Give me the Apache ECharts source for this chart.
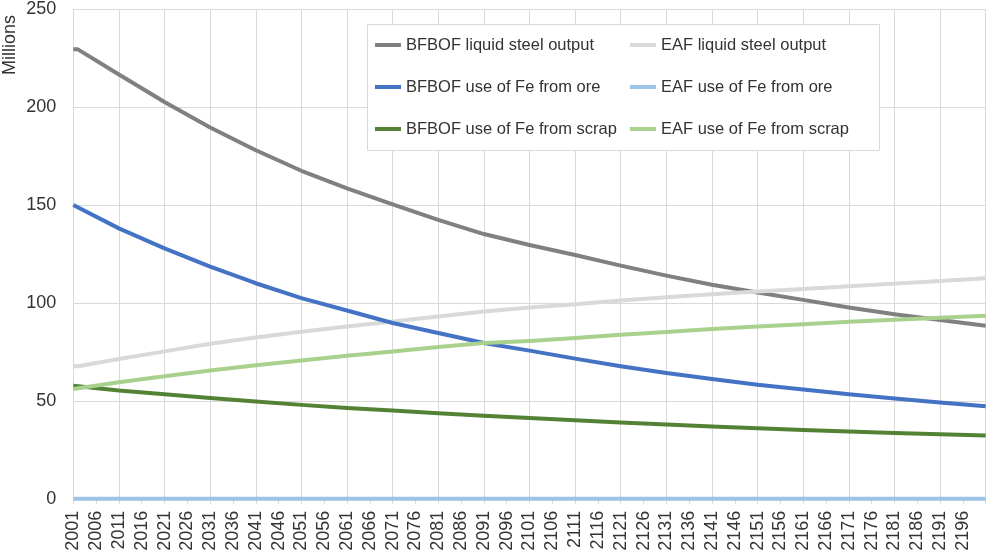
<!DOCTYPE html>
<html>
<head>
<meta charset="utf-8">
<script src="https://cdn.jsdelivr.net/npm/echarts@6/dist/echarts.min.js"></script>
<style>
  html, body { margin: 0; padding: 0; background: #ffffff; }
  #chart { width: 987px; height: 557px; }
</style>
</head>
<body>
<div id="chart"></div>
<script>
// Year axis: one category per year
const firstYear = 2001;
const lastYear = 2201;
const years = [];
for (let y = firstYear; y <= lastYear; y++) years.push(String(y));

// Years at which each series is sampled (null = no reading for that year)
const sampleYears = ['2001', '2002', '2011', '2021', '2031', '2041', '2051', '2061', '2071', '2081', '2091',
  '2101', '2111', '2121', '2131', '2141', '2151', '2161', '2171', '2181', '2191', '2201'];

// Millions of tonnes
const bfbofSteel = [229.4, 229.4, 216.6, 202.5, 189.5, 177.9, 167.4, 158.4, 150.3, 142.3, 135.1,
  129.5, 124.4, 119.0, 113.9, 109.2, 105.3, 101.5, 97.6, 94.2, 91.2, 88.3];
const eafSteel = [67.6, 67.6, 71.3, 75.2, 79.1, 82.3, 85.2, 87.9, 90.5, 93.0, 95.6,
  97.6, 99.3, 101.2, 102.9, 104.4, 105.8, 107.1, 108.5, 109.8, 111.2, 112.6];
const bfbofOre = [149.9, null, 138.0, 127.8, 118.5, 110.0, 102.4, 96.1, 89.7, 84.6, 79.5,
  75.6, 71.5, 67.6, 64.2, 61.1, 58.2, 55.7, 53.3, 51.1, 49.1, 47.2];
const eafOre = [0, null, 0, 0, 0, 0, 0, 0, 0, 0, 0,
  0, 0, 0, 0, 0, 0, 0, 0, 0, 0, 0];
const bfbofScrap = [57.7, null, 55.2, 53.3, 51.4, 49.6, 47.9, 46.3, 45.0, 43.6, 42.3,
  41.2, 40.1, 38.9, 37.9, 36.8, 36.0, 35.1, 34.3, 33.6, 32.9, 32.3];
const eafScrap = [56.0, null, 59.4, 62.5, 65.4, 68.1, 70.5, 73.0, 75.2, 77.4, 79.5,
  80.5, 82.0, 83.7, 85.1, 86.6, 87.9, 89.1, 90.3, 91.3, 92.4, 93.4];

const seriesNames = [
  'BFBOF liquid steel output', 'EAF liquid steel output',
  'BFBOF use of Fe from ore', 'EAF use of Fe from ore',
  'BFBOF use of Fe from scrap', 'EAF use of Fe from scrap'
];
const seriesValues = [bfbofSteel, eafSteel, bfbofOre, eafOre, bfbofScrap, eafScrap];
const seriesColors = ['#808080', '#d9d9d9', '#4472c4', '#9dc3e6', '#548235', '#a9d18e'];

const FONT = '"Liberation Sans", Arial, sans-serif';
const TEXT = '#333333';
const GRID = '#d9d9d9';

function pairs(vals) {
  const out = [];
  vals.forEach((v, i) => { if (v !== null) out.push([sampleYears[i], v]); });
  return out;
}

const chart = echarts.init(document.getElementById('chart'), null, { renderer: 'canvas' });

const legendCommon = {
  orient: 'vertical',
  icon: 'rect',
  itemWidth: 26,
  itemHeight: 4,
  itemGap: 22,
  padding: 0,
  top: 35,
  textStyle: { fontFamily: FONT, fontSize: 16.5, color: TEXT, lineHeight: 20 },
  selectedMode: false
};

chart.setOption({
  animation: false,
  backgroundColor: '#ffffff',
  textStyle: { fontFamily: FONT },
  grid: { left: 73.3, right: 1.3, top: 8.7, bottom: 58.3, containLabel: false },
  xAxis: [
    {
      // main year axis: labels every 5 years, gridlines every 10 years
      type: 'category',
      data: years,
      boundaryGap: false,
      axisLine: { lineStyle: { color: GRID, width: 1 } },
      axisTick: { show: true, interval: (index) => index % 10 === 0, length: 5, lineStyle: { color: GRID } },
      splitLine: { show: true, interval: (index) => index % 10 === 0, lineStyle: { color: GRID, width: 1 } },
      axisLabel: {
        rotate: 90,
        margin: 12,
        fontSize: 18,
        color: TEXT,
        fontFamily: FONT,
        interval: (index) => index % 5 === 0 && index < years.length - 1
      }
    },
    {
      // tick marks every 5 years below the axis line
      type: 'category',
      data: years,
      boundaryGap: false,
      position: 'bottom',
      axisLine: { show: false },
      axisLabel: { show: false },
      splitLine: { show: false },
      axisTick: { show: true, interval: (index) => index % 5 === 0, length: 5, lineStyle: { color: GRID } }
    }
  ],
  yAxis: {
    type: 'value',
    min: 0,
    max: 250,
    interval: 50,
    axisLine: { show: false },
    axisTick: { show: false },
    splitLine: { lineStyle: { color: GRID, width: 1 } },
    axisLabel: { fontSize: 18, color: TEXT, fontFamily: FONT, margin: 17 }
  },
  legend: [
    Object.assign({}, legendCommon, { left: 375, data: [seriesNames[0], seriesNames[2], seriesNames[4]] }),
    Object.assign({}, legendCommon, { left: 630, data: [seriesNames[1], seriesNames[3], seriesNames[5]] })
  ],
  graphic: [
    {
      type: 'rect',
      z: 1,
      shape: { x: 367.5, y: 24.5, width: 512, height: 126 },
      style: { fill: '#ffffff', stroke: GRID, lineWidth: 1 }
    },
    {
      type: 'text',
      x: 10,
      y: 45,
      rotation: Math.PI / 2,
      style: {
        text: 'Millions',
        fontFamily: FONT,
        fontSize: 18,
        fill: TEXT,
        align: 'center',
        verticalAlign: 'middle'
      }
    }
  ],
  series: seriesNames.map((name, i) => ({
    name: name,
    type: 'line',
    xAxisIndex: 0,
    data: pairs(seriesValues[i]),
    showSymbol: false,
    symbol: 'none',
    smooth: false,
    clip: false,
    color: seriesColors[i],
    lineStyle: { color: seriesColors[i], width: 4, cap: 'butt', join: 'round' }
  }))
});
</script>
</body>
</html>
